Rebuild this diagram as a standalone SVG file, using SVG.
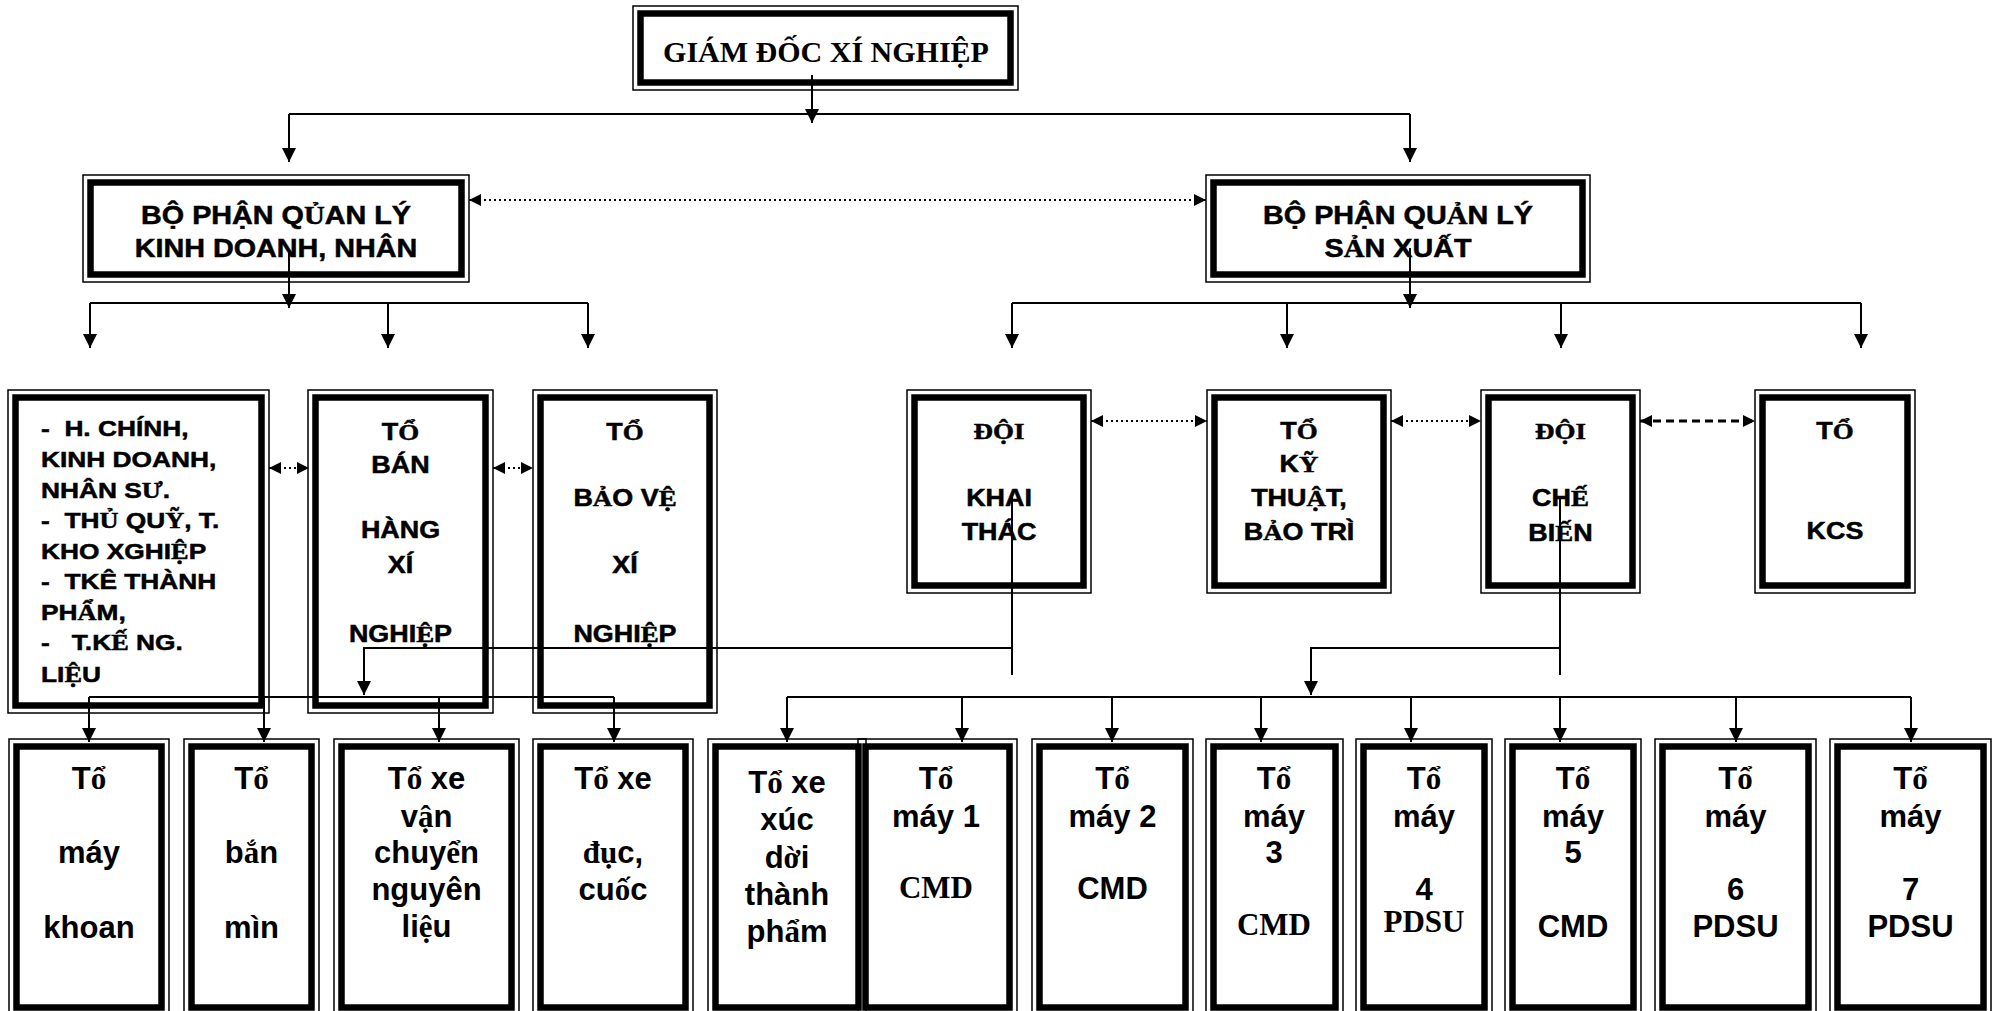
<svg xmlns="http://www.w3.org/2000/svg" width="1996" height="1011" viewBox="0 0 1996 1011">
<style>
.o{fill:none;stroke:#000;stroke-width:1.5}
.i{fill:none;stroke:#000;stroke-width:6.5}
text{font-family:"Liberation Sans",Arial,sans-serif;font-weight:bold;fill:#000}
.c text{text-anchor:middle}
.up text{font-size:23px}
.hv text{stroke:#000;stroke-width:0.5}
.bt text{font-size:31px}
.s{font-family:"Liberation Serif","Times New Roman",serif}
.tm{font-family:"Liberation Serif","Times New Roman",serif}
.ln{fill:none;stroke:#000;stroke-width:2}
.dot{stroke-dasharray:2 3}
.dash{stroke-dasharray:8 5;stroke-width:3}
.pre{white-space:pre}
</style>
<defs>
<marker id="ah" markerWidth="14" markerHeight="14" refX="14" refY="7" orient="auto" markerUnits="userSpaceOnUse"><path d="M0,0 L14,7 L0,14 Z"/></marker>
<marker id="ah2" markerWidth="12" markerHeight="12" refX="12" refY="6" orient="auto-start-reverse" markerUnits="userSpaceOnUse"><path d="M0,0 L12,6 L0,12 Z"/></marker>
</defs>
<rect width="1996" height="1011" fill="#fff"/>

<g id="giam-doc">
<rect class="o" x="633" y="6" width="385" height="84"/><rect class="i" x="640.5" y="13.5" width="370" height="69"/>
<text class="tm" x="826" y="62" font-size="30" text-anchor="middle">GIÁM ĐỐC XÍ NGHIỆP</text>
</g>

<g id="bp-kinh-doanh">
<rect class="o" x="83" y="175" width="386" height="107"/><rect class="i" x="90.5" y="182.5" width="371" height="92"/>
<g class="c hv" transform="matrix(1.15 0 0 1 276 0)" font-size="25"><text y="224">BỘ PHẬN Q<tspan class="s">Ủ</tspan>AN LÝ</text><text y="257">KINH DOANH, NHÂN</text></g>
</g>

<g id="bp-san-xuat">
<rect class="o" x="1206" y="175" width="384" height="107"/><rect class="i" x="1213.5" y="182.5" width="369" height="92"/>
<g class="c hv" transform="matrix(1.15 0 0 1 1398 0)" font-size="25"><text y="224">BỘ PHẬN QU<tspan class="s">Ả</tspan>N LÝ</text><text y="257">S<tspan class="s">Ả</tspan>N XUẤT</text></g>
</g>

<g id="hanh-chinh">
<rect class="o" x="8" y="390" width="261" height="323"/><rect class="i" x="15.5" y="397.5" width="246" height="308"/>
<g class="hv" transform="matrix(1.17 0 0 1 41 0)" font-size="22.5">
<text class="pre" y="436">-  H. CHÍNH,</text>
<text y="467">KINH DOANH,</text>
<text y="498">NHÂN S<tspan class="s">Ư</tspan>.</text>
<text class="pre" y="528">-  TH<tspan class="s">Ủ</tspan> QU<tspan class="s">Ỹ</tspan>, T.</text>
<text y="559">KHO XGHI<tspan class="s">Ệ</tspan>P</text>
<text class="pre" y="589">-  TKÊ THÀNH</text>
<text y="620">PH<tspan class="s">Ẩ</tspan>M,</text>
<text class="pre" y="650">-   T.K<tspan class="s">Ế</tspan> NG.</text>
<text y="682">LI<tspan class="s">Ệ</tspan>U</text>
</g>
</g>

<g id="to-ban-hang">
<rect class="o" x="308" y="390" width="185" height="323"/><rect class="i" x="315.5" y="397.5" width="170" height="308"/>
<g class="c up hv" transform="matrix(1.17 0 0 1 400.5 0)"><text y="440">T<tspan class="s">Ổ</tspan></text><text y="473">BÁN</text><text y="538">HÀNG</text><text y="573">XÍ</text><text y="642">NGHI<tspan class="s">Ệ</tspan>P</text></g>
</g>

<g id="to-bao-ve">
<rect class="o" x="533" y="390" width="184" height="323"/><rect class="i" x="540.5" y="397.5" width="169" height="308"/>
<g class="c up hv" transform="matrix(1.17 0 0 1 625 0)"><text y="440">T<tspan class="s">Ổ</tspan></text><text y="506">B<tspan class="s">Ả</tspan>O V<tspan class="s">Ệ</tspan></text><text y="573">XÍ</text><text y="642">NGHI<tspan class="s">Ệ</tspan>P</text></g>
</g>

<g id="doi-khai-thac">
<rect class="o" x="907" y="390" width="184" height="203"/><rect class="i" x="914.5" y="397.5" width="169" height="188"/>
<g class="c up hv" transform="matrix(1.17 0 0 1 999 0)"><text y="439"><tspan class="s">ĐỘI</tspan></text><text y="506">KHAI</text><text y="540">THÁC</text></g>
</g>

<g id="to-ky-thuat">
<rect class="o" x="1207" y="390" width="184" height="203"/><rect class="i" x="1214.5" y="397.5" width="169" height="188"/>
<g class="c up hv" transform="matrix(1.17 0 0 1 1299 0)"><text y="439">T<tspan class="s">Ổ</tspan></text><text y="472">K<tspan class="s">Ỹ</tspan></text><text y="506">THU<tspan class="s">Ậ</tspan>T,</text><text y="540">B<tspan class="s">Ả</tspan>O TRÌ</text></g>
</g>

<g id="doi-che-bien">
<rect class="o" x="1481" y="390" width="159" height="203"/><rect class="i" x="1488.5" y="397.5" width="144" height="188"/>
<g class="c up hv" transform="matrix(1.17 0 0 1 1560.5 0)"><text y="439"><tspan class="s">ĐỘI</tspan></text><text y="506">CH<tspan class="s">Ế</tspan></text><text y="541">BI<tspan class="s">Ế</tspan>N</text></g>
</g>

<g id="to-kcs">
<rect class="o" x="1755" y="390" width="160" height="203"/><rect class="i" x="1762.5" y="397.5" width="145" height="188"/>
<g class="c up hv" transform="matrix(1.17 0 0 1 1835 0)"><text y="439">T<tspan class="s">Ổ</tspan></text><text y="539">KCS</text></g>
</g>

<g id="may-khoan" class="c bt">
<rect class="o" x="9" y="739" width="160" height="276"/><rect class="i" x="16.5" y="746.5" width="145" height="261"/>
<text x="89" y="789">T<tspan class="s">ổ</tspan></text><text x="89" y="863">máy</text><text x="89" y="938">khoan</text>
</g>
<g id="ban-min" class="c bt">
<rect class="o" x="184" y="739" width="135" height="276"/><rect class="i" x="191.5" y="746.5" width="120" height="261"/>
<text x="251.5" y="789">T<tspan class="s">ổ</tspan></text><text x="251.5" y="863">b<tspan class="s">ắ</tspan>n</text><text x="251.5" y="938">mìn</text>
</g>
<g id="xe-van-chuyen" class="c bt">
<rect class="o" x="334" y="739" width="185" height="276"/><rect class="i" x="341.5" y="746.5" width="170" height="261"/>
<text x="426.5" y="789">T<tspan class="s">ổ</tspan> xe</text><text x="426.5" y="827">v<tspan class="s">ậ</tspan>n</text><text x="426.5" y="863">chuy<tspan class="s">ể</tspan>n</text><text x="426.5" y="900">nguyên</text><text x="426.5" y="937">li<tspan class="s">ệ</tspan>u</text>
</g>
<g id="xe-duc-cuoc" class="c bt">
<rect class="o" x="533" y="739" width="160" height="276"/><rect class="i" x="540.5" y="746.5" width="145" height="261"/>
<text x="613" y="789">T<tspan class="s">ổ</tspan> xe</text><text x="613" y="863"><tspan class="s">đụ</tspan>c,</text><text x="613" y="900">cu<tspan class="s">ố</tspan>c</text>
</g>
<g id="xe-xuc" class="c bt">
<rect class="o" x="708" y="739" width="158" height="276"/><rect class="i" x="715.5" y="746.5" width="143" height="261"/>
<text x="787" y="793" font-size="36">T<tspan class="s">ổ</tspan> xe</text><text x="787" y="830">xúc</text><text x="787" y="868">d<tspan class="s">ờ</tspan>i</text><text x="787" y="905">thành</text><text x="787" y="942">ph<tspan class="s">ẩ</tspan>m</text>
</g>
<g id="may-1" class="c bt">
<rect class="o" x="858" y="739" width="159" height="276"/><rect class="i" x="865.5" y="746.5" width="144" height="261"/>
<text x="936" y="789">T<tspan class="s">ổ</tspan></text><text x="936" y="827">máy 1</text><text class="tm" x="936" y="898" font-size="28">CMD</text>
</g>
<g id="may-2" class="c bt">
<rect class="o" x="1032" y="739" width="161" height="276"/><rect class="i" x="1039.5" y="746.5" width="146" height="261"/>
<text x="1112.5" y="789">T<tspan class="s">ổ</tspan></text><text x="1112.5" y="827">máy 2</text><text x="1112.5" y="899" font-size="28.5">CMD</text>
</g>
<g id="may-3" class="c bt">
<rect class="o" x="1206" y="739" width="137" height="276"/><rect class="i" x="1213.5" y="746.5" width="122" height="261"/>
<text x="1274" y="789">T<tspan class="s">ổ</tspan></text><text x="1274" y="827">máy</text><text x="1274" y="863">3</text><text class="tm" x="1274" y="935" font-size="28">CMD</text>
</g>
<g id="may-4" class="c bt">
<rect class="o" x="1356" y="739" width="136" height="276"/><rect class="i" x="1363.5" y="746.5" width="121" height="261"/>
<text x="1424" y="789">T<tspan class="s">ổ</tspan></text><text x="1424" y="827">máy</text><text x="1424" y="900">4</text><text class="tm" x="1424" y="932" font-size="26">PDSU</text>
</g>
<g id="may-5" class="c bt">
<rect class="o" x="1505" y="739" width="136" height="276"/><rect class="i" x="1512.5" y="746.5" width="121" height="261"/>
<text x="1573" y="789">T<tspan class="s">ổ</tspan></text><text x="1573" y="827">máy</text><text x="1573" y="863">5</text><text x="1573" y="937" font-size="28.5">CMD</text>
</g>
<g id="may-6" class="c bt">
<rect class="o" x="1655" y="739" width="161" height="276"/><rect class="i" x="1662.5" y="746.5" width="146" height="261"/>
<text x="1735.5" y="789">T<tspan class="s">ổ</tspan></text><text x="1735.5" y="827">máy</text><text x="1735.5" y="900">6</text><text x="1735.5" y="937">PDSU</text>
</g>
<g id="may-7" class="c bt">
<rect class="o" x="1830" y="739" width="161" height="276"/><rect class="i" x="1837.5" y="746.5" width="146" height="261"/>
<text x="1910.5" y="789">T<tspan class="s">ổ</tspan></text><text x="1910.5" y="827">máy</text><text x="1910.5" y="900">7</text><text x="1910.5" y="937">PDSU</text>
</g>

<g id="connectors" class="ln">
<path d="M812,75 V123" marker-end="url(#ah)"/>
<path d="M289,114 H1410"/>
<path d="M289,114 V162" marker-end="url(#ah)"/>
<path d="M1410,114 V162" marker-end="url(#ah)"/>
<path class="dot" d="M469,200 H1206" marker-start="url(#ah2)" marker-end="url(#ah2)"/>
<path d="M289,253 V308" marker-end="url(#ah)"/>
<path d="M1410,248 V308" marker-end="url(#ah)"/>
<path d="M90,303 H588"/>
<path d="M90,303 V348" marker-end="url(#ah)"/>
<path d="M388,303 V348" marker-end="url(#ah)"/>
<path d="M588,303 V348" marker-end="url(#ah)"/>
<path d="M1012,303 H1861"/>
<path d="M1012,303 V348" marker-end="url(#ah)"/>
<path d="M1287,303 V348" marker-end="url(#ah)"/>
<path d="M1561,303 V348" marker-end="url(#ah)"/>
<path d="M1861,303 V348" marker-end="url(#ah)"/>
<path class="dot" d="M269,468 H309" marker-start="url(#ah2)" marker-end="url(#ah2)"/>
<path class="dot" d="M493,468 H533" marker-start="url(#ah2)" marker-end="url(#ah2)"/>
<path class="dot" d="M1091,421 H1207" marker-start="url(#ah2)" marker-end="url(#ah2)"/>
<path class="dot" d="M1391,421 H1481" marker-start="url(#ah2)" marker-end="url(#ah2)"/>
<path class="dash" d="M1640,421 H1755" marker-start="url(#ah2)" marker-end="url(#ah2)"/>
<path d="M1012,497 V675"/>
<path d="M1012,648 H364 V695" marker-end="url(#ah)"/>
<path d="M1560,497 V675"/>
<path d="M1560,648 H1311 V695" marker-end="url(#ah)"/>
<path d="M89,697 H614"/>
<path d="M89,697 V742" marker-end="url(#ah)"/>
<path d="M264,697 V742" marker-end="url(#ah)"/>
<path d="M439,697 V742" marker-end="url(#ah)"/>
<path d="M614,697 V742" marker-end="url(#ah)"/>
<path d="M787,697 H1911"/>
<path d="M787,697 V742" marker-end="url(#ah)"/>
<path d="M962,697 V742" marker-end="url(#ah)"/>
<path d="M1112,697 V742" marker-end="url(#ah)"/>
<path d="M1261,697 V742" marker-end="url(#ah)"/>
<path d="M1411,697 V742" marker-end="url(#ah)"/>
<path d="M1560,697 V742" marker-end="url(#ah)"/>
<path d="M1736,697 V742" marker-end="url(#ah)"/>
<path d="M1911,697 V742" marker-end="url(#ah)"/>
</g>
</svg>
